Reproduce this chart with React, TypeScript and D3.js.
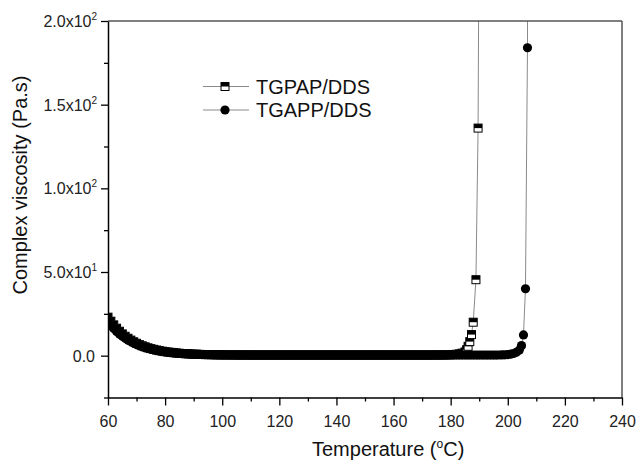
import React, { useEffect, useRef } from "react";
import * as d3 from "d3";

// temperatures (°C) shared by both runs in the flat part
const baseTemps = [
  60, 61, 62, 63, 64, 65, 66, 67, 68, 69,
  70, 71, 72, 73, 74, 75, 76, 77, 78, 79,
  80, 81, 82, 83, 84, 85, 86, 87, 88, 89,
  90, 91, 92, 93, 94, 95, 96, 97, 98, 99,
  100, 101, 102, 103, 104, 105, 106, 107, 108, 109,
  110, 111, 112, 113, 114, 115, 116, 117, 118, 119,
  120, 121, 122, 123, 124, 125, 126, 127, 128, 129,
  130, 131, 132, 133, 134, 135, 136, 137, 138, 139,
  140, 141, 142, 143, 144, 145, 146, 147, 148, 149,
  150, 151, 152, 153, 154, 155, 156, 157, 158, 159,
  160, 161, 162, 163, 164, 165, 166, 167, 168, 169,
  170, 171, 172, 173, 174, 175, 176, 177, 178, 179,
  180, 181, 182, 183, 184,
];

const tgpapTemp = [...baseTemps, 185, 185.6, 186.1, 186.7, 187.3, 187.9, 188.85, 189.6, 190.1];
const tgpapVisc = [
  23, 20.6, 18.4, 16.4, 14.6, 13.0, 11.6, 10.4, 9.3, 8.3,
  7.4, 6.6, 5.9, 5.3, 4.7, 4.2, 3.8, 3.4, 3.0, 2.7,
  2.4, 2.2, 2.0, 1.8, 1.6, 1.45, 1.3, 1.2, 1.1, 1.0,
  0.92, 0.85, 0.78, 0.72, 0.67, 0.62, 0.58, 0.55, 0.52, 0.5,
  0.48, 0.47, 0.46, 0.45, 0.44, 0.43, 0.43, 0.42, 0.42, 0.41,
  0.41, 0.4, 0.4, 0.4, 0.4, 0.4, 0.4, 0.4, 0.4, 0.4,
  0.4, 0.4, 0.4, 0.4, 0.4, 0.4, 0.4, 0.4, 0.4, 0.4,
  0.4, 0.4, 0.4, 0.4, 0.4, 0.4, 0.4, 0.4, 0.4, 0.4,
  0.4, 0.4, 0.4, 0.4, 0.4, 0.4, 0.4, 0.4, 0.4, 0.4,
  0.4, 0.4, 0.4, 0.4, 0.4, 0.4, 0.4, 0.4, 0.4, 0.4,
  0.4, 0.4, 0.4, 0.4, 0.4, 0.4, 0.4, 0.4, 0.4, 0.4,
  0.4, 0.4, 0.4, 0.4, 0.41, 0.42, 0.43, 0.45, 0.48, 0.52,
  0.58, 0.68, 0.85, 1.1, 1.5,
  2.2, 3.6, 5.6, 8.4, 12.6, 20, 45.4, 136, 320,
];

const tgappTemp = [
  ...baseTemps,
  185, 186, 187, 188, 189, 190, 191, 192, 193, 194,
  195, 196, 197, 198, 199, 200, 201, 202, 203, 204,
  204.8, 205.5, 206.2, 206.9, 207.1,
];
const tgappVisc = [
  20, 18, 16.2, 14.5, 13, 11.7, 10.5, 9.4, 8.4, 7.5,
  6.7, 6.0, 5.4, 4.8, 4.3, 3.9, 3.5, 3.1, 2.8, 2.5,
  2.25, 2.0, 1.8, 1.62, 1.46, 1.32, 1.2, 1.1, 1.0, 0.92,
  0.85, 0.78, 0.72, 0.67, 0.62, 0.58, 0.54, 0.51, 0.48, 0.46,
  0.44, 0.42, 0.41, 0.4, 0.39, 0.38, 0.37, 0.36, 0.36, 0.35,
  0.35, 0.35, 0.35, 0.35, 0.35, 0.35, 0.35, 0.35, 0.35, 0.35,
  0.35, 0.35, 0.35, 0.35, 0.35, 0.35, 0.35, 0.35, 0.35, 0.35,
  0.35, 0.35, 0.35, 0.35, 0.35, 0.35, 0.35, 0.35, 0.35, 0.35,
  0.35, 0.35, 0.35, 0.35, 0.35, 0.35, 0.35, 0.35, 0.35, 0.35,
  0.35, 0.35, 0.35, 0.35, 0.35, 0.35, 0.35, 0.35, 0.35, 0.35,
  0.35, 0.35, 0.35, 0.35, 0.35, 0.35, 0.35, 0.35, 0.35, 0.35,
  0.35, 0.35, 0.35, 0.35, 0.35, 0.35, 0.35, 0.35, 0.35, 0.35,
  0.35, 0.35, 0.35, 0.35, 0.35,
  0.35, 0.35, 0.35, 0.35, 0.35, 0.35, 0.35, 0.35, 0.35, 0.35,
  0.36, 0.38, 0.4, 0.45, 0.52, 0.65, 0.9, 1.3, 2.0, 3.3,
  6, 12.4, 40, 184, 400,
];

const seriesNames = ["TGPAP/DDS", "TGAPP/DDS"];
const xMajor = [60, 80, 100, 120, 140, 160, 180, 200, 220, 240];
const xMinor = [70, 90, 110, 130, 150, 170, 190, 210, 230];
const yMajor = [0, 50, 100, 150, 200];
const yMinor = [-25, 25, 75, 125, 175];
const yLabelMain = ["0.0", "5.0x10", "1.0x10", "1.5x10", "2.0x10"];
const yLabelSup = ["", "1", "2", "2", "2"];

const W = 636;
const H = 461;
const FONT = "'Liberation Sans', Arial, sans-serif";

const Chart = () => {
  const ref = useRef<SVGSVGElement>(null);

  useEffect(() => {
    document.body.style.margin = "0";
    const margin = { top: 21, right: 14, bottom: 63.5, left: 108 };
    const svg = d3.select(ref.current);
    svg.selectAll("*").remove();

    const x = d3
      .scaleLinear()
      .domain([60, 240])
      .range([margin.left, W - margin.right]);
    const y = d3
      .scaleLinear()
      .domain([-25, 200])
      .range([H - margin.bottom, margin.top]);

    const [x0, x1] = x.range();
    const [y0, y1] = y.range();

    svg
      .append("defs")
      .append("clipPath")
      .attr("id", "plotclip")
      .append("rect")
      .attr("x", x0)
      .attr("y", y1)
      .attr("width", x1 - x0)
      .attr("height", y0 - y1);

    const plot = svg.append("g").attr("clip-path", "url(#plotclip)");
    const line = d3
      .line<[number, number]>()
      .x((d) => x(d[0]))
      .y((d) => y(d[1]));

    const sq: [number, number][] = tgpapTemp.map((t, i) => [t, tgpapVisc[i]]);
    const ci: [number, number][] = tgappTemp.map((t, i) => [t, tgappVisc[i]]);

    const drawSquare = (g: any) => {
      g.append("rect")
        .attr("x", -4)
        .attr("y", -4)
        .attr("width", 8)
        .attr("height", 8)
        .attr("fill", "#fff")
        .attr("stroke", "#000")
        .attr("stroke-width", 1);
      g.append("rect")
        .attr("x", -4)
        .attr("y", -4)
        .attr("width", 8)
        .attr("height", 4)
        .attr("fill", "#000");
    };

    // TGPAP/DDS
    plot
      .append("path")
      .datum(sq)
      .attr("d", line)
      .attr("fill", "none")
      .attr("stroke", "#8a8a8a")
      .attr("stroke-width", 1);
    plot
      .append("g")
      .selectAll("g")
      .data(sq)
      .join("g")
      .attr("transform", (d) => `translate(${x(d[0])},${y(d[1])})`)
      .each(function () {
        drawSquare(d3.select(this));
      });

    // TGAPP/DDS
    plot
      .append("path")
      .datum(ci)
      .attr("d", line)
      .attr("fill", "none")
      .attr("stroke", "#8a8a8a")
      .attr("stroke-width", 1);
    plot
      .append("g")
      .selectAll("circle")
      .data(ci)
      .join("circle")
      .attr("cx", (d) => x(d[0]))
      .attr("cy", (d) => y(d[1]))
      .attr("r", 4.6)
      .attr("fill", "#000");

    // frame
    svg
      .append("line")
      .attr("x1", x0)
      .attr("x2", x1)
      .attr("y1", y1)
      .attr("y2", y1)
      .attr("stroke", "#555")
      .attr("stroke-width", 1.5);
    svg
      .append("line")
      .attr("x1", x1)
      .attr("x2", x1)
      .attr("y1", y1)
      .attr("y2", y0)
      .attr("stroke", "#555")
      .attr("stroke-width", 1.5);

    // x axis
    svg
      .append("g")
      .attr("transform", `translate(0,${y0})`)
      .call(
        d3
          .axisBottom(x)
          .tickValues(xMinor)
          .tickSize(4)
          .tickFormat(() => "")
      )
      .call((g) => g.select(".domain").remove())
      .selectAll("line")
      .attr("stroke-width", 1.3);
    const xAx = svg
      .append("g")
      .attr("transform", `translate(0,${y0})`)
      .call(
        d3
          .axisBottom(x)
          .tickValues(xMajor)
          .tickSize(8)
          .tickSizeOuter(0)
          .tickPadding(10)
          .tickFormat((d) => String(d))
      );
    xAx.select(".domain").attr("stroke-width", 1.5);
    xAx.selectAll("line").attr("stroke-width", 1.3);
    xAx
      .selectAll("text")
      .attr("font-size", 16)
      .attr("font-family", FONT)
      .attr("fill", "#222");

    // y axis
    svg
      .append("g")
      .attr("transform", `translate(${x0},0)`)
      .call(
        d3
          .axisLeft(y)
          .tickValues(yMinor)
          .tickSize(4)
          .tickFormat(() => "")
      )
      .call((g) => g.select(".domain").remove())
      .selectAll("line")
      .attr("stroke-width", 1.3);
    const yAx = svg
      .append("g")
      .attr("transform", `translate(${x0},0)`)
      .call(
        d3
          .axisLeft(y)
          .tickValues(yMajor)
          .tickSize(7)
          .tickSizeOuter(0)
          .tickFormat(() => "")
      );
    yAx.select(".domain").attr("stroke-width", 1.5);
    yAx.selectAll("line").attr("stroke-width", 1.3);

    const yl = svg
      .append("g")
      .selectAll("text")
      .data(yMajor)
      .join("text")
      .attr("x", (d, i) => (yLabelSup[i] ? 97 : 95))
      .attr("y", (d) => y(d) + 6)
      .attr("text-anchor", "end")
      .attr("font-size", 16)
      .attr("font-family", FONT)
      .attr("fill", "#222");
    yl.append("tspan").text((d, i) => yLabelMain[i]);
    yl.append("tspan")
      .attr("dy", -7)
      .attr("font-size", 10)
      .text((d, i) => yLabelSup[i]);

    // axis titles
    const xt = svg
      .append("text")
      .attr("x", 312)
      .attr("y", 456)
      .attr("font-size", 20)
      .attr("font-family", FONT)
      .attr("fill", "#111");
    xt.append("tspan").text("Temperature (");
    xt.append("tspan").attr("dy", -8).attr("font-size", 12).text("o");
    xt.append("tspan").attr("dy", 8).text("C)");

    svg
      .append("text")
      .attr("transform", `translate(27,185) rotate(-90)`)
      .attr("text-anchor", "middle")
      .attr("font-size", 20)
      .attr("font-family", FONT)
      .attr("fill", "#111")
      .text("Complex viscosity (Pa.s)");

    // legend
    const legY = [86.5, 110];
    seriesNames.forEach((name, i) => {
      const g = svg.append("g").attr("transform", `translate(0,${legY[i]})`);
      g.append("line")
        .attr("x1", 203)
        .attr("x2", 249)
        .attr("y1", 0)
        .attr("y2", 0)
        .attr("stroke", "#8a8a8a")
        .attr("stroke-width", 1);
      const m = g.append("g").attr("transform", "translate(225,0)");
      if (i === 0) drawSquare(m);
      else m.append("circle").attr("r", 4.6).attr("fill", "#000");
      g.append("text")
        .attr("x", 256)
        .attr("y", 7)
        .attr("font-size", 20)
        .attr("font-family", FONT)
        .attr("fill", "#111")
        .text(name);
    });
  }, []);

  return <svg ref={ref} width={W} height={H} style={{ display: "block" }}></svg>;
};

export default function App() {
  return <Chart />;
}
